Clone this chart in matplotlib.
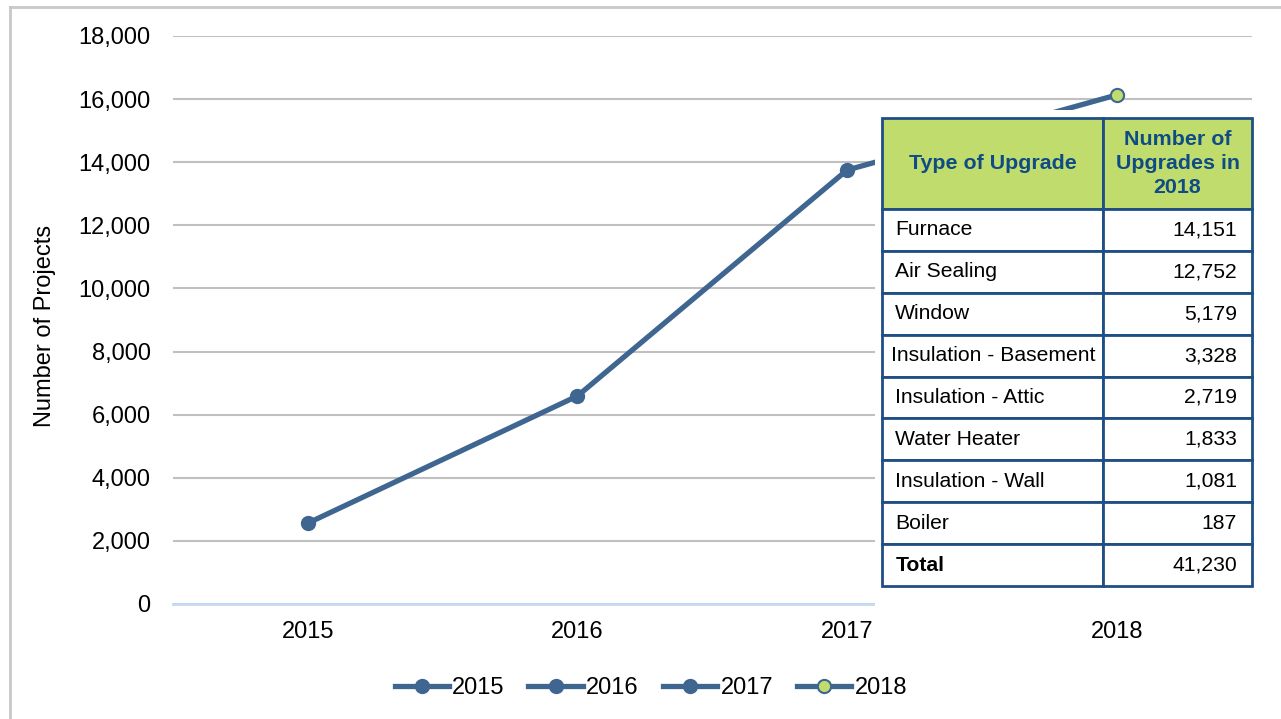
import matplotlib.pyplot as plt
from matplotlib.patches import Rectangle
from matplotlib.lines import Line2D

plt.rcParams['font.family'] = ['Liberation Sans', 'DejaVu Sans']

years = ["2015", "2016", "2017", "2018"]
projects = [2560, 6590, 13750, 16130]

upgrade_types = ["Furnace", "Air Sealing", "Window", "Insulation - Basement",
                 "Insulation - Attic", "Water Heater", "Insulation - Wall", "Boiler", "Total"]
upgrade_counts = ["14,151", "12,752", "5,179", "3,328", "2,719", "1,833", "1,081", "187", "41,230"]
header = ["Type of Upgrade", "Number of\nUpgrades in\n2018"]

line_col = "#3F6690"
green = "#C0DC6C"
navy = "#1F4E85"

fig = plt.figure(figsize=(12.81, 7.19), dpi=100)
ax = fig.add_axes([0.135, 0.160, 0.842, 0.790])

x = list(range(len(years)))
ax.plot(x, projects, color=line_col, lw=3.8, zorder=3, solid_capstyle='round')
for i, yr in enumerate(years):
    fc = green if yr == "2018" else line_col
    ax.plot([x[i]], [projects[i]], color=line_col, lw=3.8, marker='o', ms=9.5,
            mfc=fc, mec=line_col, mew=1.5, label=yr, zorder=4)

ax.set_xlim(-0.5, 3.5)
ax.set_ylim(0, 18000)
ax.set_yticks(range(0, 18001, 2000))
ax.set_yticklabels([f"{v:,}" for v in range(0, 18001, 2000)])
ax.set_xticks(x)
ax.set_xticklabels(years)
ax.tick_params(axis='both', length=0, labelsize=17, pad=12)
ax.tick_params(axis='y', pad=16)
ax.yaxis.grid(True, color="#C0C0C0", lw=1.5)
ax.set_axisbelow(True)
for s in ["top", "right", "left"]:
    ax.spines[s].set_visible(False)
ax.spines["bottom"].set_color("#C5D9F1")
ax.spines["bottom"].set_linewidth(2)
ax.set_ylabel("Number of Projects", fontsize=17)
ax.yaxis.set_label_coords(-0.108, 0.49)

ax.legend(loc="lower center", bbox_to_anchor=(0.508, -0.002), bbox_transform=fig.transFigure,
          ncol=4, frameon=False, fontsize=17, handlelength=2.3, handletextpad=0.15,
          columnspacing=1.0)

# white margin behind the table
W, H = 1281, 719
fig.patches.append(Rectangle((875 / W, 1 - 614 / H), 390 / W, 504 / H,
                             transform=fig.transFigure, facecolor="white",
                             edgecolor="none", zorder=1))

# outer border (left and top)
fig.add_artist(Line2D([10 / W, 10 / W], [0, 1 - 7 / H], transform=fig.transFigure,
                      color="#C8C8C8", lw=2))
fig.add_artist(Line2D([10 / W, 1], [1 - 7 / H, 1 - 7 / H], transform=fig.transFigure,
                      color="#C8C8C8", lw=2))

tax = fig.add_axes([882 / W, 1 - 586 / H, 370 / W, 468 / H], zorder=2)
tax.axis("off")
cells = [[t, c] for t, c in zip(upgrade_types, upgrade_counts)]
tbl = tax.table(cellText=cells, colLabels=header, bbox=[0, 0, 1, 1],
                colWidths=[221 / 370, 149 / 370])
tbl.auto_set_font_size(False)
hh = 91 / 468
rh = (1 - hh) / len(upgrade_types)
for (r, c), cell in tbl.get_celld().items():
    cell.set_edgecolor(navy)
    cell.set_linewidth(2)
    cell.set_height(hh if r == 0 else rh)
    txt = cell.get_text()
    if r == 0:
        cell.set_facecolor(green)
        txt.set_fontsize(15.4)
        txt.set_color("#0F4C85")
        txt.set_fontweight("bold")
        txt.set_ha("center")
        cell._loc = "center"
        txt.set_linespacing(1.35)
    else:
        txt.set_fontsize(15.2)
        cell.set_facecolor("white")
        if c == 0:
            cell._loc = "left"
            txt.set_ha("left")
            cell.PAD = 0.06 if len(upgrade_types[r - 1]) < 20 else 0.04
        else:
            cell._loc = "right"
            txt.set_ha("right")
            cell.PAD = 0.1
        if upgrade_types[r - 1] == "Total" and c == 0:
            txt.set_fontweight("bold")

fig.savefig("out.png", dpi=100)
